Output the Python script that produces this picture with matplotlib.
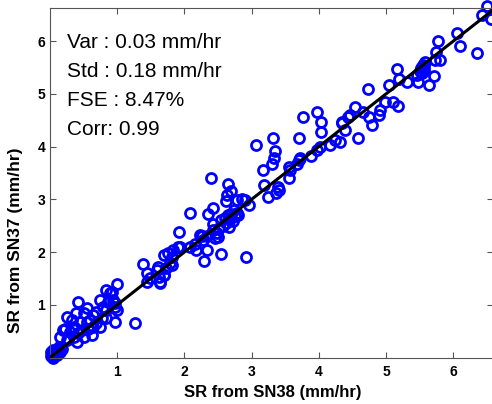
import numpy as np
import matplotlib
matplotlib.use("Agg")
import matplotlib.pyplot as plt

# 全局设置
W, H = 492, 404
DPI = 100
FONT = "Liberation Sans"

# 数据 (mm/hr)
sn38_rain = [0.02, 0.03, 0.05, 0.06, 0.08, 0.10, 0.12, 0.14, 0.04, 0.07, 0.10, 0.15, 0.18, 0.01, 0.05,
             0.99, 0.84, 0.89, 0.92, 0.74, 0.41, 0.55, 0.50, 0.64, 0.60, 0.69, 0.79, 0.84, 0.99, 0.97,
             0.87, 0.77, 0.69, 0.64, 0.55, 0.45, 0.47, 0.35, 0.30, 0.22, 0.27, 0.25, 0.40, 0.62, 0.57,
             0.50, 0.32, 0.38, 0.26, 0.20, 0.74, 0.84, 0.97, 1.27, 0.15, 0.35, 0.42, 0.94, 0.97,
             1.38, 1.60, 1.62, 1.70, 1.73, 1.45, 1.49, 1.44, 1.63, 1.81, 1.69, 1.76, 1.83, 1.91, 1.81,
             1.79, 1.64, 1.59, 1.69,
             2.08, 2.35, 1.92, 2.40, 2.23, 2.28, 2.18, 2.33, 2.29, 2.08, 1.93, 2.55, 2.92, 2.42, 2.42,
             2.43, 2.48, 2.50, 2.46, 2.33, 2.26, 2.16, 2.65, 2.69, 2.63, 2.62, 2.78, 2.85, 2.90, 2.96,
             2.55, 2.60, 2.62, 2.65, 2.68, 2.70, 2.72, 2.75, 2.78, 2.58, 2.66, 2.74, 2.80, 2.52,
             3.07, 3.32, 3.77, 3.97, 3.71, 3.35, 3.34, 3.31, 3.17, 3.18, 3.55, 3.57, 3.70, 3.72, 3.67,
             3.55, 3.88, 3.97, 3.40, 3.37, 3.25, 3.41,
             4.02, 4.17, 4.24, 4.32, 4.34, 4.39, 4.44, 4.03, 4.04, 4.54, 4.46, 4.35, 4.66, 4.74, 4.79,
             4.59, 4.89, 4.91, 4.99, 4.73,
             5.04, 5.17, 5.20, 5.31, 5.47, 5.46, 5.11, 5.18, 5.52, 5.55, 5.57, 5.53, 5.58, 5.50, 5.56,
             5.72, 5.64, 5.73, 5.80, 5.74, 5.77, 6.06, 6.10, 6.36, 6.43, 6.50, 6.56]
sn37_rain = [0.02, 0.06, 0.09, 0.03, 0.11, 0.13, 0.16, 0.19, 0.00, 0.06, 0.05, 0.11, 0.16, 0.10, 0.14,
             1.39, 1.28, 1.22, 1.25, 1.10, 1.05, 0.93, 0.84, 0.81, 0.71, 0.87, 0.96, 0.90, 0.90, 1.03,
             1.06, 0.74, 0.65, 0.58, 0.68, 0.68, 0.52, 0.58, 0.49, 0.54, 0.36, 0.33, 0.30, 0.43, 0.55,
             0.39, 0.71, 0.85, 0.76, 0.52, 0.58, 0.74, 0.68, 0.66, 0.39, 0.39, 0.46, 1.09, 0.96,
             1.77, 1.71, 1.53, 1.57, 1.69, 1.60, 1.50, 1.44, 1.42, 1.76, 1.95, 1.98, 2.04, 2.09, 1.91,
             1.79, 1.44, 1.66, 1.57,
             2.75, 2.72, 2.38, 3.41, 2.32, 2.23, 2.04, 2.04, 1.83, 2.10, 2.10, 1.96, 1.90, 2.84, 2.53,
             2.42, 2.36, 2.29, 2.26, 2.31, 2.31, 2.15, 3.29, 3.15, 3.08, 2.96, 2.98, 3.01, 2.99, 2.89,
             2.60, 2.65, 2.55, 2.70, 2.62, 2.72, 2.58, 2.68, 2.75, 2.50, 2.48, 2.80, 2.70, 2.45,
             4.03, 4.16, 4.56, 4.66, 4.17, 3.91, 3.78, 3.67, 3.56, 3.27, 3.61, 3.56, 3.75, 3.78, 3.68,
             3.40, 3.83, 3.94, 3.24, 3.12, 3.05, 3.18,
             4.00, 4.03, 4.13, 4.08, 4.44, 4.32, 4.57, 4.47, 4.28, 4.76, 4.60, 4.46, 4.66, 4.56, 4.42,
             4.16, 4.60, 4.70, 4.85, 5.09,
             5.16, 5.48, 5.28, 5.23, 5.23, 5.35, 4.85, 4.77, 5.50, 5.55, 5.45, 5.40, 5.60, 5.43, 5.52,
             5.34, 5.16, 5.65, 5.65, 5.80, 6.01, 6.15, 5.91, 5.78, 6.49, 6.67, 6.42]

stats_lines = ["Var : 0.03 mm/hr", "Std : 0.18 mm/hr", "FSE : 8.47%", "Corr: 0.99"]
ticks = [1, 2, 3, 4, 5, 6]
x_max, y_max = 6.6, 6.63

fig = plt.figure(figsize=(W / DPI, H / DPI), dpi=DPI)
# 坐标轴位置按像素算: 左 50, 右 493.5, 上 8, 下 357.5
ax = fig.add_axes([50 / W, 1 - 357.5 / H, 443.5 / W, 349.5 / H])

ax.plot(sn38_rain, sn37_rain, "o", markerfacecolor="none", markeredgecolor="#0000ff",
        markersize=7.2, markeredgewidth=2.0, clip_on=False, zorder=2)
ax.plot([0, x_max], [0, x_max], "-", color="black", linewidth=2.2, zorder=3)

ax.set_xlim(0, x_max)
ax.set_ylim(0, y_max)
ax.set_xticks(ticks)
ax.set_yticks(ticks)
ax.tick_params(direction="in", length=4, width=0.8, color="#555555",
               top=True, right=True, labelsize=10)
ax.tick_params(axis="x", pad=5.5)
ax.tick_params(axis="y", pad=3.5)
for lab in ax.get_xticklabels() + ax.get_yticklabels():
    lab.set_fontweight("bold")
    lab.set_family(FONT)
for sp in ax.spines.values():
    sp.set_color("#555555")
    sp.set_linewidth(0.8)

# 坐标轴标题 (按像素放)
fig.text(272.5 / W, 1 - 397 / H, "SR from SN38 (mm/hr)", fontsize=12, fontweight="bold",
         family=FONT, ha="center", va="baseline")
fig.text(16 / W, 1 - 240 / H, "SR from SN37 (mm/hr)", fontsize=12.5, fontweight="bold",
         family=FONT, ha="center", va="center", rotation=90)

# 统计文字
for i, s in enumerate(stats_lines):
    fig.text(67 / W, 1 - (48 + 29 * i) / H, s, fontsize=15, family=FONT, va="baseline")

plt.savefig("out.png", dpi=DPI)
